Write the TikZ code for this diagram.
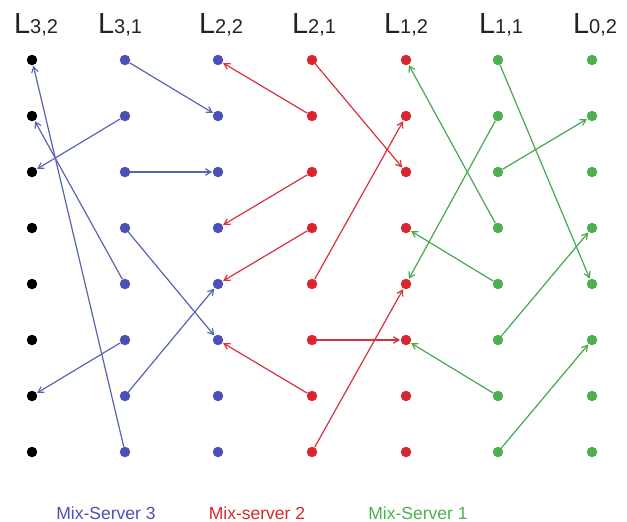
\documentclass[tikz,border=0pt]{standalone}
\usepackage{fontspec}
\setmainfont{Liberation Sans}
\usetikzlibrary{arrows.meta}
\definecolor{dblue}{HTML}{4B4FB8}
\definecolor{dred}{HTML}{D9262E}
\definecolor{dgreen}{HTML}{4CB050}
\definecolor{ablue}{HTML}{5565B0}
\definecolor{ared}{HTML}{DA2F3C}
\definecolor{agreen}{HTML}{45A84E}
\definecolor{hdrgray}{HTML}{222222}
\newcommand\hdrlabel[1]{{\fontsize{29}{29}\selectfont L}{\fontsize{20}{20}\selectfont #1}}
\begin{document}
\begin{tikzpicture}[x=1pt,y=-1pt,
  dot/.style={circle,fill=#1,inner sep=0pt,minimum size=10.5pt},
  arr/.style={draw=#1,line width=1.2pt,-{Straight Barb[length=5.5pt,width=6.5pt]},shorten >=0.5pt},
  hdr/.style={anchor=base,text=hdrgray},
  mix/.style={anchor=base,text=#1,font=\fontsize{17.5}{17.5}\selectfont}]
\useasboundingbox (0,0) rectangle (627,522);
\foreach \c/\x/\col in {0/32/black,1/125/dblue,2/218/dblue,3/312/dred,4/406/dred,5/498/dgreen,6/592/dgreen}{
  \foreach \r/\y in {1/60,2/116,3/172,4/228,5/284,6/340,7/396,8/452}{
    \node[dot=\col] (c\c-\r) at (\x,\y) {};
  }
}
% headers
\node[hdr] (h0) at (36,33) {\hdrlabel{3,2}};
\node[hdr] (h1) at (120,33) {\hdrlabel{3,1}};
\node[hdr] (h2) at (221,33) {\hdrlabel{2,2}};
\node[hdr] (h3) at (314,33) {\hdrlabel{2,1}};
\node[hdr] (h4) at (406,33) {\hdrlabel{1,2}};
\node[hdr] (h5) at (501,33) {\hdrlabel{1,1}};
\node[hdr] (h6) at (595,33) {\hdrlabel{0,2}};
% blue arrows
\draw[arr=ablue] (c1-1) -- (c2-2);
\draw[arr=ablue] (c1-2) -- (c0-3);
\draw[arr=ablue] (c1-3) -- (c2-3);
\draw[arr=ablue] (c1-4) -- (c2-6);
\draw[arr=ablue] (c1-5) -- (c0-2);
\draw[arr=ablue] (c1-6) -- (c0-7);
\draw[arr=ablue] (c1-7) -- (c2-5);
\draw[arr=ablue] (c1-8) -- (c0-1);
% red arrows
\draw[arr=ared] (c3-1) -- (c4-3);
\draw[arr=ared] (c3-2) -- (c2-1);
\draw[arr=ared] (c3-3) -- (c2-4);
\draw[arr=ared] (c3-4) -- (c2-5);
\draw[arr=ared] (c3-5) -- (c4-2);
\draw[arr=ared] (c3-6) -- (c4-6);
\draw[arr=ared] (c3-7) -- (c2-6);
\draw[arr=ared] (c3-8) -- (c4-5);
% green arrows
\draw[arr=agreen] (c5-1) -- (c6-5);
\draw[arr=agreen] (c5-2) -- (c4-5);
\draw[arr=agreen] (c5-3) -- (c6-2);
\draw[arr=agreen] (c5-4) -- (c4-1);
\draw[arr=agreen] (c5-5) -- (c4-4);
\draw[arr=agreen] (c5-6) -- (c6-4);
\draw[arr=agreen] (c5-7) -- (c4-6);
\draw[arr=agreen] (c5-8) -- (c6-6);
% bottom labels
\node[mix=dblue] (m3) at (106,519) {Mix-Server 3};
\node[mix=dred] (m2) at (257,519) {Mix-server 2};
\node[mix=dgreen] (m1) at (418,519) {Mix-Server 1};
\end{tikzpicture}
\end{document}
